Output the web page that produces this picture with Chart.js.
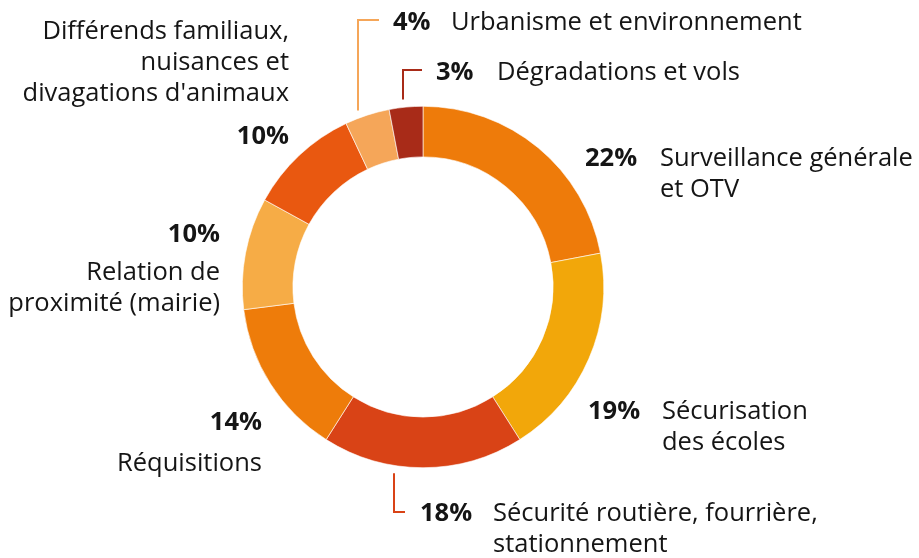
<!DOCTYPE html>
<html lang="fr">
<head>
    <meta charset="UTF-8">
    <title>Répartition des interventions</title>
    <style>
        html, body { margin: 0; padding: 0; background: #fff; }
        #wrap { width: 919px; height: 558px; position: relative; }
    </style>
</head>
<body>
    <div id="wrap"><canvas id="donut" width="919" height="558"></canvas></div>

<script src="https://cdn.jsdelivr.net/npm/chart.js"></script>
<script>
// données (sens horaire depuis midi)
const categories = [
    'Surveillance générale et OTV',
    'Sécurisation des écoles',
    'Sécurité routière, fourrière, stationnement',
    'Réquisitions',
    'Relation de proximité (mairie)',
    "Différends familiaux, nuisances et divagations d'animaux",
    'Urbanisme et environnement',
    'Dégradations et vols'
];
const valeurs = [22, 19, 18, 14, 10, 10, 4, 3];
const couleurs = ['#EE7B0A', '#F2A70A', '#D94316', '#EE7C0A', '#F6AC46', '#E95810', '#F5A659', '#A82B18'];

// libellés découpés en lignes comme sur l'original
const lignesLibelles = [
    ['Surveillance générale', 'et OTV'],
    ['Sécurisation', 'des écoles'],
    ['Sécurité routière, fourrière,', 'stationnement'],
    ['Réquisitions'],
    ['Relation de', 'proximité (mairie)'],
    ['Différends familiaux,', 'nuisances et', "divagations d'animaux"],
    ['Urbanisme et environnement'],
    ['Dégradations et vols']
];

const POLICE = '"Open Sans", sans-serif';
const TAILLE = 25.5;
const INTERLIGNE = 31;

// placement des étiquettes : pct = position du pourcentage, lib = première ligne du libellé
const placement = [
    { align: 'left',  pct: [585, 166], lib: [660, 166] },
    { align: 'left',  pct: [588, 419], lib: [662, 419] },
    { align: 'left',  pct: [420, 521], lib: [493, 521] },
    { align: 'right', pct: [262, 430], lib: [262, 471] },
    { align: 'right', pct: [220, 242], lib: [220, 280] },
    { align: 'right', pct: [289, 144], lib: [289, 39] },
    { align: 'left',  pct: [393, 30],  lib: [451, 30] },
    { align: 'left',  pct: [436, 80],  lib: [497, 80] }
];

// traits de rappel : x du trait vertical, y du coude, sens du retour
const rappels = [
    { index: 6, x: 358, coude: 20, vers: 379, haut: true },
    { index: 7, x: 403, coude: 70, vers: 422, haut: true },
    { index: 2, x: 394, coude: 512, vers: 405, haut: false }
];

const etiquettes = {
    id: 'etiquettes',
    afterDraw(chart) {
        const ctx = chart.ctx;
        const arc = chart.getDatasetMeta(0).data[0];
        const cx = arc.x, cy = arc.y, R = arc.outerRadius;

        ctx.save();
        // traits
        ctx.lineWidth = 2;
        rappels.forEach(r => {
            const dx = r.x - cx;
            const yBord = Math.sqrt(R * R - dx * dx);
            const y0 = r.haut ? cy - yBord - 8 : cy + yBord + 8;
            ctx.strokeStyle = couleurs[r.index];
            ctx.beginPath();
            ctx.moveTo(r.x, y0);
            ctx.lineTo(r.x, r.coude);
            ctx.lineTo(r.vers, r.coude);
            ctx.stroke();
        });

        // textes
        ctx.fillStyle = '#151515';
        ctx.textBaseline = 'alphabetic';
        valeurs.forEach((v, i) => {
            const p = placement[i];
            ctx.textAlign = p.align;
            ctx.font = 'bold ' + TAILLE + 'px ' + POLICE;
            ctx.fillText(v + '%', p.pct[0], p.pct[1]);
            ctx.font = TAILLE + 'px ' + POLICE;
            lignesLibelles[i].forEach((l, k) => {
                ctx.fillText(l, p.lib[0], p.lib[1] + k * INTERLIGNE);
            });
        });
        ctx.restore();
    }
};

const ctx = document.getElementById('donut').getContext('2d');

new Chart(ctx, {
    type: 'doughnut',
    data: {
        labels: categories,
        datasets: [{
            data: valeurs,
            backgroundColor: couleurs,
            borderColor: '#ffffff',
            borderWidth: 0.6
        }]
    },
    options: {
        responsive: false,
        animation: false,
        cutout: '72%',
        layout: {
            padding: { top: 106, bottom: 90, left: 242, right: 315 }
        },
        plugins: {
            legend: { display: false },
            tooltip: { enabled: false }
        }
    },
    plugins: [etiquettes]
});
</script>
</body>
</html>
